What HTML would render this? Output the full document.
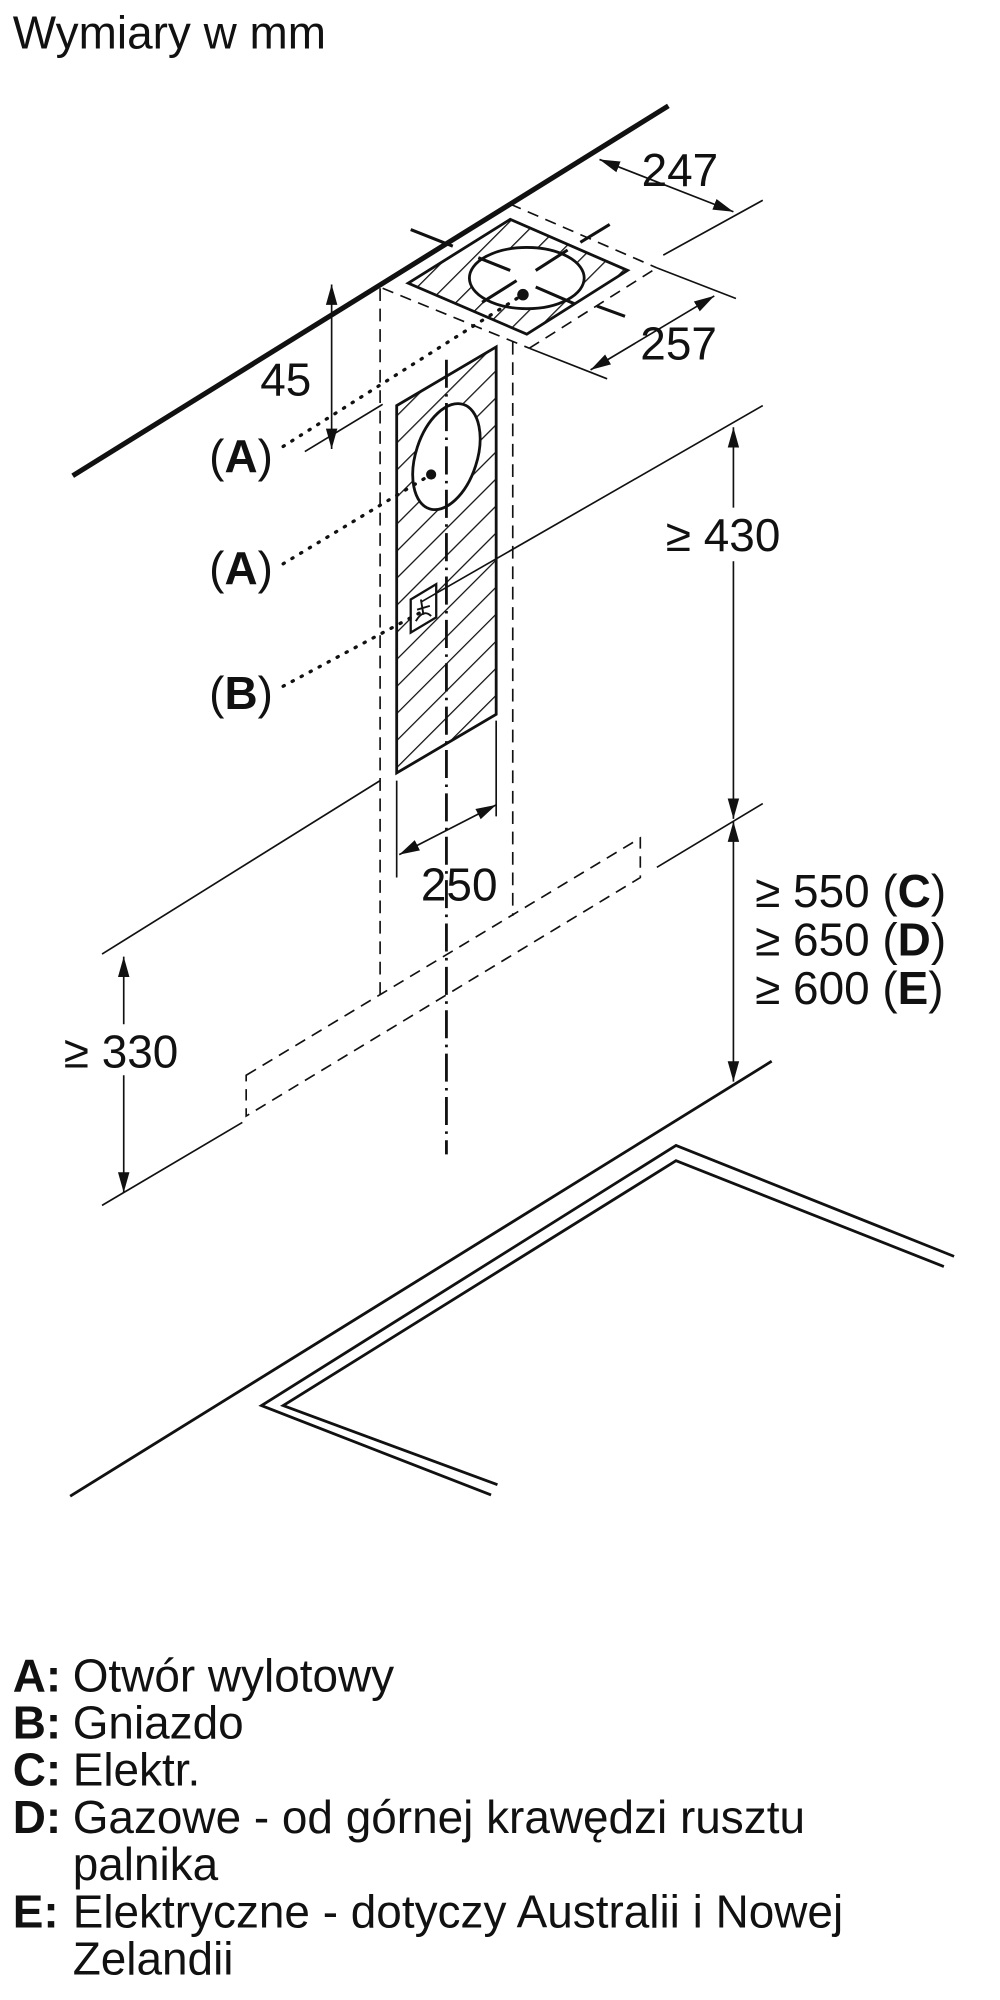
<!DOCTYPE html>
<html><head><meta charset="utf-8"><style>
html,body{margin:0;padding:0;background:#fff}
svg{display:block}
text{font-family:"Liberation Sans",Arial,sans-serif;fill:#111}
</style></head><body>
<svg width="1000" height="2000" viewBox="0 0 784 1568" xmlns="http://www.w3.org/2000/svg">
<defs>
<pattern id="h" width="15" height="15" patternUnits="userSpaceOnUse" patternTransform="rotate(45)">
<line x1="0" y1="0" x2="0" y2="15" stroke="#111" stroke-width="2"/>
</pattern>
<marker id="ar" viewBox="0 0 16 10" refX="16" refY="5" markerWidth="16" markerHeight="10" orient="auto-start-reverse" markerUnits="userSpaceOnUse">
<path d="M0,0.5 L16,5 L0,9.5 z" fill="#111"/>
</marker>
</defs>
<text x="10" y="38" font-size="36">Wymiary w mm</text>

<line x1="57" y1="373" x2="524" y2="83" stroke="#111" stroke-width="4"/>
<g stroke="#111" stroke-width="1.3" fill="none" stroke-dasharray="9,6">
<line x1="300" y1="226" x2="415" y2="273"/>
<line x1="415" y1="273" x2="515" y2="210"/>
<line x1="400" y1="160" x2="515" y2="210"/>
</g>
<polygon points="320,222 400,172 492,212 413,262" fill="url(#h)" stroke="#111" stroke-width="2.2"/>
<ellipse cx="413" cy="218" rx="45" ry="24" fill="#fff" stroke="#111" stroke-width="2.2"/>
<g stroke="#111" stroke-width="2.4">
<line x1="322" y1="180" x2="355" y2="193"/><line x1="375" y1="202" x2="400" y2="212"/>
<line x1="420" y1="225" x2="450" y2="238"/><line x1="468" y1="240" x2="490" y2="248"/>
<line x1="378" y1="237" x2="405" y2="220"/><line x1="420" y1="212" x2="445" y2="196"/>
<line x1="455" y1="190" x2="478" y2="176"/>
</g>
<circle cx="410" cy="231" r="4.5" fill="#111"/>

<line x1="520" y1="200" x2="598" y2="157" stroke="#111" stroke-width="1.3"/>
<line x1="470" y1="125" x2="575" y2="166" stroke="#111" stroke-width="1.3" marker-start="url(#ar)" marker-end="url(#ar)"/>
<text x="503" y="146" font-size="36">247</text>
<line x1="415" y1="273" x2="476" y2="297" stroke="#111" stroke-width="1.3"/>
<line x1="515" y1="210" x2="577" y2="234" stroke="#111" stroke-width="1.3"/>
<line x1="463" y1="290" x2="560" y2="232" stroke="#111" stroke-width="1.3" marker-start="url(#ar)" marker-end="url(#ar)"/>
<text x="502" y="282" font-size="36">257</text>

<line x1="239" y1="354" x2="300" y2="317" stroke="#111" stroke-width="1.3"/>
<line x1="260" y1="223" x2="260" y2="352" stroke="#111" stroke-width="1.3" marker-start="url(#ar)" marker-end="url(#ar)"/>
<text x="204" y="310" font-size="36">45</text>

<g stroke="#111" stroke-width="1.3" stroke-dasharray="10,6">
<line x1="298" y1="226" x2="298" y2="780"/>
<line x1="402" y1="268" x2="402" y2="718"/>
</g>

<polygon points="311,318 389,272 389,560 311,606" fill="url(#h)" stroke="#111" stroke-width="2.2"/>
<ellipse cx="350" cy="358" rx="24" ry="43" transform="rotate(18 350 358)" fill="#fff" stroke="#111" stroke-width="2.2"/>
<circle cx="338" cy="372" r="4" fill="#111"/>
<polygon points="322,470 342,458 342,484 322,496" fill="#fff" stroke="#111" stroke-width="1.8"/>
<path d="M326,487 q6,-10 12,-4 M330,470 l2,12 M327,478 l10,-3" stroke="#111" stroke-width="1.5" fill="none"/>

<line x1="350" y1="282" x2="350" y2="905" stroke="#111" stroke-width="2.2" stroke-dasharray="22,5,2,5"/>

<g stroke="#111" stroke-width="2.6" stroke-dasharray="1,7" stroke-linecap="round">
<line x1="222" y1="350" x2="410" y2="231"/>
<line x1="222" y1="442" x2="338" y2="372"/>
<line x1="222" y1="538" x2="330" y2="480"/>
</g>
<text x="164" y="370" font-size="36">(<tspan font-weight="bold">A</tspan>)</text>
<text x="164" y="458" font-size="36">(<tspan font-weight="bold">A</tspan>)</text>
<text x="164" y="556" font-size="36">(<tspan font-weight="bold">B</tspan>)</text>

<line x1="311" y1="612" x2="311" y2="688" stroke="#111" stroke-width="1.3"/>
<line x1="389" y1="565" x2="389" y2="640" stroke="#111" stroke-width="1.3"/>
<line x1="313" y1="670" x2="389" y2="631" stroke="#111" stroke-width="1.3" marker-start="url(#ar)" marker-end="url(#ar)"/>
<text x="330" y="706" font-size="36">250</text>

<g stroke="#111" stroke-width="1.3">
<line x1="598" y1="318" x2="330" y2="472"/>
<line x1="80" y1="748" x2="298" y2="612"/>
<line x1="80" y1="945" x2="190" y2="880"/>
<line x1="515" y1="680" x2="598" y2="630"/>
</g>
<g stroke="#111" stroke-width="1.3" fill="none" stroke-dasharray="9,6">
<path d="M193,843 L502,657 L502,688 L193,875 Z"/>
</g>

<line x1="575" y1="335" x2="575" y2="642" stroke="#111" stroke-width="1.3" marker-start="url(#ar)" marker-end="url(#ar)"/>
<rect x="520" y="398" width="98" height="42" fill="#fff"/>
<text x="522" y="432" font-size="36">≥ 430</text>
<line x1="575" y1="644" x2="575" y2="848" stroke="#111" stroke-width="1.3" marker-start="url(#ar)" marker-end="url(#ar)"/>
<text x="592" y="711" font-size="36">≥ 550 (<tspan font-weight="bold">C</tspan>)</text>
<text x="592" y="749" font-size="36">≥ 650 (<tspan font-weight="bold">D</tspan>)</text>
<text x="592" y="787" font-size="36">≥ 600 (<tspan font-weight="bold">E</tspan>)</text>
<line x1="97" y1="750" x2="97" y2="935" stroke="#111" stroke-width="1.3" marker-start="url(#ar)" marker-end="url(#ar)"/>
<rect x="50" y="803" width="100" height="40" fill="#fff"/>
<text x="50" y="837" font-size="36">≥ 330</text>

<line x1="605" y1="832" x2="55" y2="1173" stroke="#111" stroke-width="2.2"/>
<g stroke="#111" stroke-width="2.2" fill="none">
<polyline points="385,1172 205,1102 530,898 748,985"/>
<polyline points="390,1164 222,1102 530,910 740,993"/>
</g>

<g font-size="36">
<text x="10" y="1326" font-weight="bold">A:</text><text x="57" y="1326">Otwór wylotowy</text>
<text x="10" y="1363" font-weight="bold">B:</text><text x="57" y="1363">Gniazdo</text>
<text x="10" y="1400" font-weight="bold">C:</text><text x="57" y="1400">Elektr.</text>
<text x="10" y="1437" font-weight="bold">D:</text><text x="57" y="1437">Gazowe - od górnej krawędzi rusztu</text>
<text x="57" y="1474">palnika</text>
<text x="10" y="1511" font-weight="bold">E:</text><text x="57" y="1511">Elektryczne - dotyczy Australii i Nowej</text>
<text x="57" y="1548">Zelandii</text>
</g>
</svg>
</body></html>
